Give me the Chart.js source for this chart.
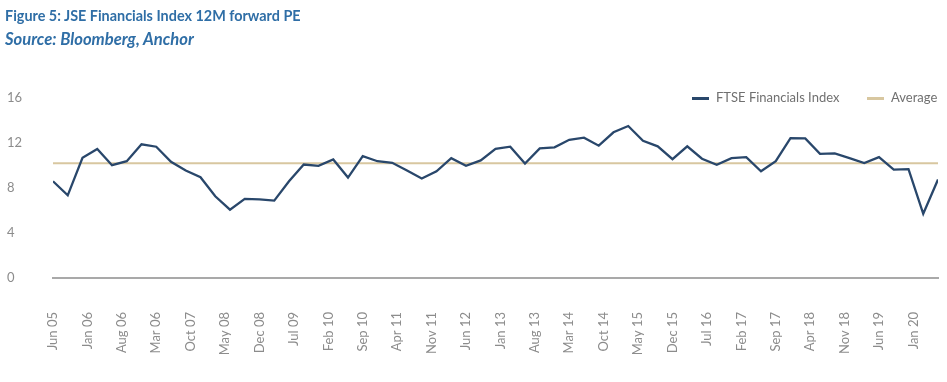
<!DOCTYPE html>
<html>
<head>
<meta charset="utf-8">
<script src="https://cdn.jsdelivr.net/npm/chart.js@4/dist/chart.umd.min.js"></script>
<style>
  html, body { margin: 0; padding: 0; background: #ffffff; overflow: hidden; }
  #wrap { position: relative; width: 947px; height: 382px; font-family: Lato, "Open Sans", sans-serif; }
  #c { position: absolute; left: 0; top: 0; }
  .title { position: absolute; left: 5px; top: 7px; font-size: 14.4px; line-height: 17px; font-weight: bold; color: #2f6ea6; white-space: nowrap; }
  .sub { position: absolute; left: 5px; top: 30px; font-size: 16.6px; line-height: 19px; font-weight: bold; font-style: italic; color: #2f6ea6; white-space: nowrap; }
  .lg { position: absolute; top: 89px; height: 17px; line-height: 17px; font-size: 13px; color: #707070; white-space: nowrap; }
  .lg .sw { position: absolute; left: 0; top: 8px; width: 17px; height: 2.5px; }
  .lg .tx { position: absolute; left: 24px; top: 0; }
</style>
</head>
<body>
<div id="wrap">
  <canvas id="c" width="947" height="382"></canvas>
  <div class="title">Figure 5: JSE Financials Index 12M forward PE</div>
  <div class="sub">Source: Bloomberg, Anchor</div>
  <div class="lg" style="left:692px"><span class="sw" style="background:#29476b"></span><span class="tx">FTSE Financials Index</span></div>
  <div class="lg" style="left:867px"><span class="sw" style="background:#d8c7a0"></span><span class="tx">Average</span></div>
</div>
<script>
// ---- data ----
const quarterLabels = [
  'Jun 05','Sep 05','Dec 05',
  'Mar 06','Jun 06','Sep 06','Dec 06',
  'Mar 07','Jun 07','Sep 07','Dec 07',
  'Mar 08','Jun 08','Sep 08','Dec 08',
  'Mar 09','Jun 09','Sep 09','Dec 09',
  'Mar 10','Jun 10','Sep 10','Dec 10',
  'Mar 11','Jun 11','Sep 11','Dec 11',
  'Mar 12','Jun 12','Sep 12','Dec 12',
  'Mar 13','Jun 13','Sep 13','Dec 13',
  'Mar 14','Jun 14','Sep 14','Dec 14',
  'Mar 15','Jun 15','Sep 15','Dec 15',
  'Mar 16','Jun 16','Sep 16','Dec 16',
  'Mar 17','Jun 17','Sep 17','Dec 17',
  'Mar 18','Jun 18','Sep 18','Dec 18',
  'Mar 19','Jun 19','Sep 19','Dec 19',
  'Mar 20','Jun 20'
];
const ftseFinancialsPE = [
  8.6, 7.35, 10.69,
  11.46, 10.03, 10.38, 11.88,
  11.67, 10.33, 9.55, 8.96,
  7.26, 6.07, 7.03, 6.99,
  6.88, 8.6, 10.09, 9.97,
  10.54, 8.93, 10.83, 10.38,
  10.24, 9.55, 8.84, 9.49,
  10.65, 9.97, 10.45, 11.49,
  11.67, 10.18, 11.52, 11.61,
  12.29, 12.47, 11.76, 12.95,
  13.51, 12.2, 11.7, 10.56,
  11.7, 10.6, 10.06, 10.65,
  10.74, 9.49, 10.38, 12.44,
  12.41, 11.04, 11.07, 10.65,
  10.21, 10.74, 9.64, 9.67,
  5.71, 8.75
];
const averagePE = 10.2;
const tickLabels = [
  'Jun 05','Jan 06','Aug 06','Mar 06','Oct 07','May 08','Dec 08','Jul 09','Feb 10',
  'Sep 10','Apr 11','Nov 11','Jun 12','Jan 13','Aug 13','Mar 14','Oct 14','May 15',
  'Dec 15','Jul 16','Feb 17','Sep 17','Apr 18','Nov 18','Jun 19','Jan 20'
];
const yTicks = [0, 4, 8, 12, 16];

// ---- helpers ----
const monNames = ['Jan','Feb','Mar','Apr','May','Jun','Jul','Aug','Sep','Oct','Nov','Dec'];
function monthOffset(lbl) {
  const [m, y] = lbl.split(' ');
  return (parseInt(y, 10) - 5) * 12 + monNames.indexOf(m) - 5;
}
const seriesPoints = quarterLabels.map((q, i) => ({ x: monthOffset(q), y: ftseFinancialsPE[i] }));
const firstX = monthOffset(quarterLabels[0]);
const lastX = monthOffset(quarterLabels[quarterLabels.length - 1]);
const avgPoints = [{ x: firstX, y: averagePE }, { x: lastX, y: averagePE }];

const tickFont = { family: 'Lato', size: 13 };

new Chart(document.getElementById('c'), {
  type: 'line',
  data: {
    datasets: [
      {
        label: 'FTSE Financials Index',
        data: seriesPoints,
        borderColor: '#29476b',
        backgroundColor: '#29476b',
        borderWidth: 2.3,
        pointRadius: 0,
        tension: 0,
        fill: false
      },
      {
        label: 'Average',
        data: avgPoints,
        borderColor: '#d8c7a0',
        backgroundColor: '#d8c7a0',
        borderWidth: 2,
        pointRadius: 0,
        tension: 0,
        fill: false
      }
    ]
  },
  options: {
    responsive: false,
    devicePixelRatio: 1,
    animation: false,
    layout: { padding: { left: 7, right: 9, top: 98, bottom: 0 } },
    plugins: { legend: { display: false }, tooltip: { enabled: false } },
    scales: {
      x: {
        type: 'linear',
        min: firstX,
        max: lastX,
        grid: { display: false, drawTicks: false },
        border: { display: true, color: '#a9a9a9', width: 2 },
        afterBuildTicks: (scale) => { scale.ticks = tickLabels.map((l, i) => ({ value: i * 7 })); },
        afterFit: (scale) => { scale.height = 104; scale.paddingLeft = 0; scale.paddingRight = 0; },
        ticks: {
          autoSkip: false,
          minRotation: 90,
          maxRotation: 90,
          padding: 34,
          color: '#8c8c8c',
          font: tickFont,
          callback: (v, i) => tickLabels[i]
        }
      },
      y: {
        min: 0,
        max: 16,
        grid: { display: false, drawTicks: false },
        border: { display: false },
        afterBuildTicks: (scale) => { scale.ticks = yTicks.map(v => ({ value: v })); },
        afterFit: (scale) => { scale.width = 46; },
        ticks: {
          crossAlign: 'far',
          color: '#8c8c8c',
          font: tickFont,
          padding: 0
        }
      }
    }
  }
});
</script>
</body>
</html>
